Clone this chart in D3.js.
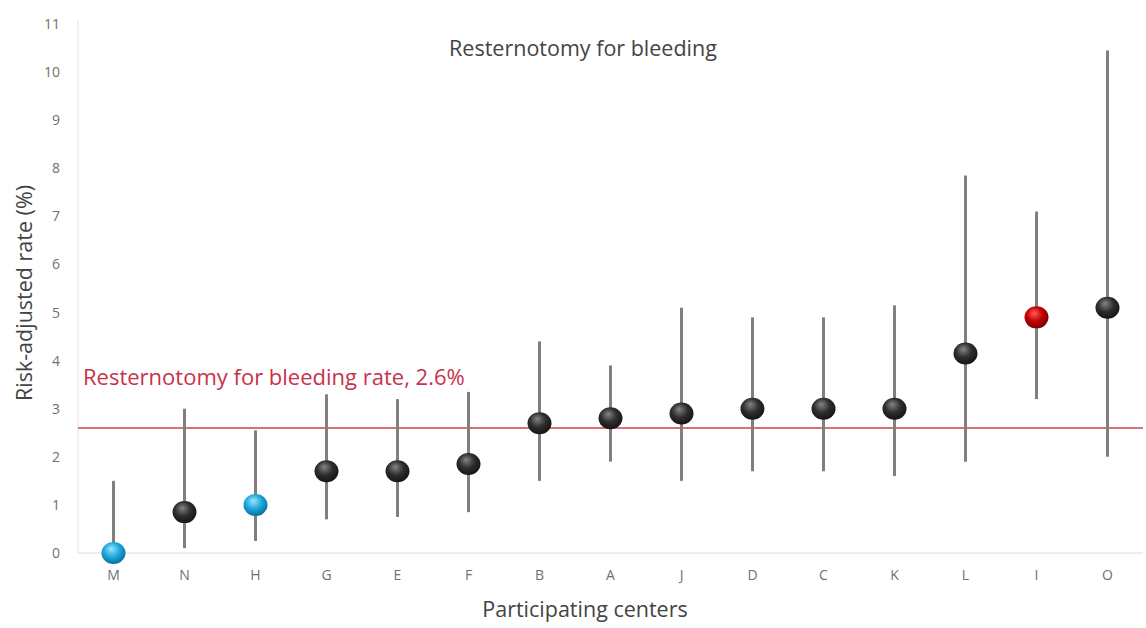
<!DOCTYPE html>
<html><head><meta charset="utf-8">
<script src="https://cdn.jsdelivr.net/npm/d3@7"></script>
<style>body{margin:0;background:#fff;} text{font-family:"Open Sans",sans-serif;}</style>
</head><body><svg id="c" width="1146" height="628"></svg>
<script>
const centers = ["M","N","H","G","E","F","B","A","J","D","C","K","L","I","O"];
const rates   = [0, 0.85, 1.0, 1.7, 1.7, 1.85, 2.7, 2.8, 2.9, 3.0, 3.0, 3.0, 4.15, 4.9, 5.1];
const lower   = [0, 0.1, 0.25, 0.7, 0.75, 0.85, 1.5, 1.9, 1.5, 1.7, 1.7, 1.6, 1.9, 3.2, 2.0];
const upper   = [1.5, 3.0, 2.55, 3.3, 3.2, 3.35, 4.4, 3.9, 5.1, 4.9, 4.9, 5.15, 7.85, 7.1, 10.45];
const status  = ["low","avg","low","avg","avg","avg","avg","avg","avg","avg","avg","avg","avg","high","avg"];
const yTicks  = [0,1,2,3,4,5,6,7,8,9,10,11];
const overallRate = 2.6;

const svg = d3.select("#c");
const x = d3.scaleBand().domain(centers).range([78, 1143]);
const y = d3.scaleLinear().domain([0, 11]).range([553, 24]);

const defs = svg.append("defs");
const grads = {avg:["#858585","#2e2e2e","#151515"], low:["#9be6ff","#1ea9de","#0b6f9c"], high:["#ff6060","#c40000","#7a0000"]};
Object.entries(grads).forEach(([k,c])=>{
  const g = defs.append("radialGradient").attr("id","g-"+k).attr("cx","45%").attr("cy","40%").attr("r","60%").attr("fx","40%").attr("fy","30%");
  g.append("stop").attr("offset","0%").attr("stop-color",c[0]);
  g.append("stop").attr("offset","55%").attr("stop-color",c[1]);
  g.append("stop").attr("offset","100%").attr("stop-color",c[2]);
});

// axes lines
svg.append("line").attr("x1",78).attr("x2",78).attr("y1",y(11)-4).attr("y2",y(0)).attr("stroke","#e4e4e4");
svg.append("line").attr("x1",78).attr("x2",1143).attr("y1",y(0)).attr("y2",y(0)).attr("stroke","#dcdcdc");

// y tick labels
const yAxis = d3.axisLeft(y).tickValues(yTicks).tickSize(0).tickPadding(0);
const ya = svg.append("g").attr("transform","translate(60,0)").call(yAxis);
ya.select(".domain").remove();
ya.selectAll("text").attr("font-size",14).attr("fill","#707070").attr("font-family","Open Sans");

const xAxis = d3.axisBottom(x).tickSize(0).tickPadding(0);
const xa = svg.append("g").attr("transform","translate(0,570)").call(xAxis);
xa.select(".domain").remove();
xa.selectAll("text").attr("font-size",14).attr("fill","#707070").attr("font-family","Open Sans");

// reference line
svg.append("line").attr("x1",78).attr("x2",1143).attr("y1",y(overallRate)).attr("y2",y(overallRate)).attr("stroke","#d0404a").attr("stroke-width",1.6);
svg.append("text").attr("x",83).attr("y",385).attr("font-size",22).attr("fill","#c8324a").text("Resternotomy for bleeding rate, 2.6%");

// error bars
svg.selectAll("line.err").data(centers).join("line").attr("class","err")
  .attr("x1",d=>x(d)+x.bandwidth()/2).attr("x2",d=>x(d)+x.bandwidth()/2)
  .attr("y1",(d,i)=>y(upper[i])).attr("y2",(d,i)=>y(lower[i]))
  .attr("stroke","#808080").attr("stroke-width",3);

// points
svg.selectAll("ellipse.pt").data(centers).join("ellipse").attr("class","pt")
  .attr("cx",d=>x(d)+x.bandwidth()/2).attr("cy",(d,i)=>y(rates[i]))
  .attr("rx",12).attr("ry",11)
  .attr("fill",(d,i)=>"url(#g-"+status[i]+")");

// titles
svg.append("text").attr("x",583).attr("y",56).attr("text-anchor","middle").attr("font-size",21.5).attr("fill","#444").text("Resternotomy for bleeding");
svg.append("text").attr("x",585).attr("y",617).attr("text-anchor","middle").attr("font-size",21.5).attr("fill","#444").text("Participating centers");
svg.append("text").attr("transform","translate(32,293) rotate(-90)").attr("text-anchor","middle").attr("font-size",21.5).attr("fill","#444").text("Risk-adjusted rate (%)");
</script></body></html>
